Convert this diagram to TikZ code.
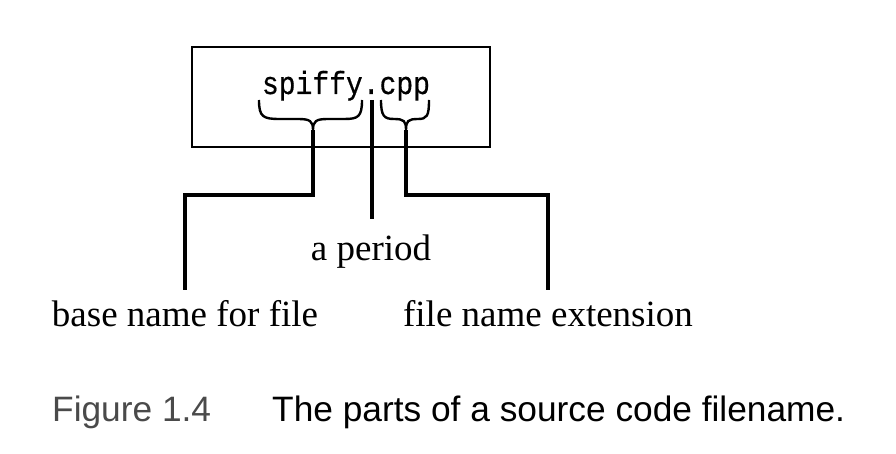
\documentclass[tikz,border=0pt]{standalone}
\usepackage{fontspec}
\setmainfont{Liberation Serif}
\setmonofont[FakeStretch=0.875,FakeBold=0.5]{Liberation Mono}
\newfontfamily\capfont{Liberation Sans}
\definecolor{capgray}{HTML}{4A4A4A}
\begin{document}
\begin{tikzpicture}[x=1pt,y=-1pt,
  boxst/.style={draw, line width=2.6pt, minimum width=298pt, minimum height=100pt, inner sep=0pt},
  mono/.style={font=\ttfamily\fontsize{32}{34}\selectfont, inner sep=0pt},
  lab/.style={font=\fontsize{37}{40}\selectfont, inner sep=0pt},
  captionst/.style={font=\capfont\fontsize{35.3}{37}\selectfont, inner sep=0pt},
  brc/.style={line width=2.4pt},
  conn/.style={line width=3.4pt}]
\useasboundingbox (0,0) rectangle (896,454);
% box and filename
\node[boxst] (box) at (341,97) {};
\node[mono, anchor=base] (fname) at (346,94) {spiffy.cpp};
% braces
\coordinate (tipL) at (313,130);
\coordinate (tipR) at (406,130);
\draw[brc] (259,100) .. controls (259,117) and (263,119) .. (280,119)
  -- (298,119) .. controls (310,119) and (313,121) .. (tipL)
  .. controls (313,121) and (316,119) .. (328,119) -- (344,119)
  .. controls (358,119) and (362,117) .. (362,100);
\draw[brc] (381,100) .. controls (381,116) and (384,119) .. (394,119)
  .. controls (404,119) and (406,121) .. (tipR)
  .. controls (406,121) and (408,119) .. (418,119)
  .. controls (427,119) and (429,116) .. (429,100);
% labels
\node[lab, anchor=base] (period) at (371,260) {a period};
\node[lab, anchor=base] (base) at (185,326) {base name for file};
\node[lab, anchor=base] (ext) at (548,326) {file name extension};
% connectors
\coordinate (dotTop) at (372,100);
\coordinate (dotEnd) at (372,219);
\coordinate (jL) at (185,195);
\coordinate (endL) at (185,290);
\coordinate (jR) at (548,195);
\coordinate (endR) at (548,290);
\draw[conn] (dotTop) -- (dotEnd);
\draw[conn] (tipL) |- (jL) -- (endL);
\draw[conn] (tipR) |- (jR) -- (endR);
% caption
\node[captionst, anchor=base west, text=capgray] (fig) at (52,421) {Figure 1.4};
\node[captionst, anchor=base west] (captxt) at (272,421) {The parts of a source code filename.};
\end{tikzpicture}
\end{document}
